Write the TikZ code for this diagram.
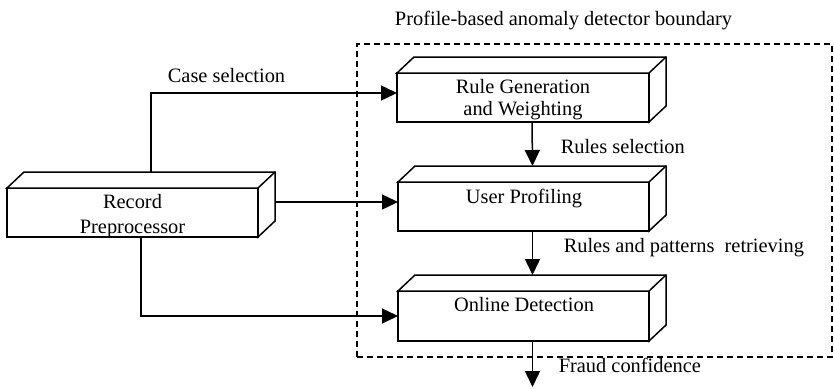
\documentclass[tikz,border=0pt]{standalone}
\usepackage{fontspec}
\setmainfont{Liberation Serif}
\usetikzlibrary{arrows.meta}

% 3D slab: draws the top and right faces behind a front-face node
\newcommand\slabfaces[1]{%
  \draw[fill=white] (#1.north west) -- ++(17,-16) -- ([shift={(17,-16)}]#1.north east)
    -- ([shift={(17,-16)}]#1.south east) -- (#1.south east) -- (#1.north east) -- cycle;
  \draw (#1.north east) -- ([shift={(17,-16)}]#1.north east);}

\begin{document}
\begin{tikzpicture}[x=1pt,y=-1pt,
  line width=1.5pt,
  face/.style={draw, fill=white, rectangle, inner sep=0pt, outer sep=0pt, anchor=north west},
  txt/.style={font=\fontsize{20.4}{24}\selectfont, inner sep=0pt, anchor=base},
  ltxt/.style={txt, anchor=base west},
  flow/.style={-{Triangle[length=16pt,width=15pt]}},
  boundary/.style={draw, dash pattern=on 6pt off 4pt, line width=1.2pt}]
\useasboundingbox (0,0) rectangle (834,388);

% detector boundary
\node[boundary, rectangle, inner sep=0pt, outer sep=0pt, anchor=north west,
      minimum width=475pt, minimum height=313pt] (bound) at (357,44) {};
\node[txt] (title) at (563.5,25) {Profile-based anomaly detector boundary};

% front faces
\node[face, minimum width=251pt, minimum height=49pt] (rp) at (7,188) {};
\node[face, minimum width=252pt, minimum height=49pt] (rg) at (397,73) {};
\node[face, minimum width=251pt, minimum height=49pt] (up) at (398,182) {};
\node[face, minimum width=251pt, minimum height=50pt] (od) at (398,291) {};
\slabfaces{rp}
\slabfaces{rg}
\slabfaces{up}
\slabfaces{od}

% box texts
\node[txt] (rp1) at (132.5,208) {Record};
\node[txt] (rp2) at (132.5,233) {Preprocessor};
\node[txt] (rg1) at (523,93) {Rule Generation};
\node[txt] (rg2) at (523,115) {and Weighting};
\node[txt] (up1) at (524,203) {User Profiling};
\node[txt] (od1) at (524,311) {Online Detection};

% connectors
\coordinate (rgin) at ([yshift=4.5pt]rg.west);
\coordinate (upin) at ([yshift=4.5pt]up.west);
\coordinate (rpback) at ([xshift=17pt]rp.east);
\draw[flow] ([shift={(144,-16)}]rp.north west) |- (rgin);
\draw[flow] (rpback |- upin) -- (upin);
\draw[flow] ([xshift=134pt]rp.south west) |- (od.west);
\draw[flow] ([xshift=9pt]rg.south) -- ([shift={(9,-16)}]up.north);
\draw[flow] ([xshift=9pt]up.south) -- ([shift={(9,-16)}]od.north);
\coordinate (out) at ([shift={(9,46)}]od.south);
\draw[flow] ([xshift=9pt]od.south) -- (out);

% labels
\node[txt] (case) at (226.5,82) {Case selection};
\node[ltxt] (rsel) at (560,153) {Rules selection};
\node[ltxt] (rpat) at (563,252) {Rules and patterns\ \ retrieving};
\node[ltxt] (fraud) at (558,372) {Fraud confidence};
\end{tikzpicture}
\end{document}
